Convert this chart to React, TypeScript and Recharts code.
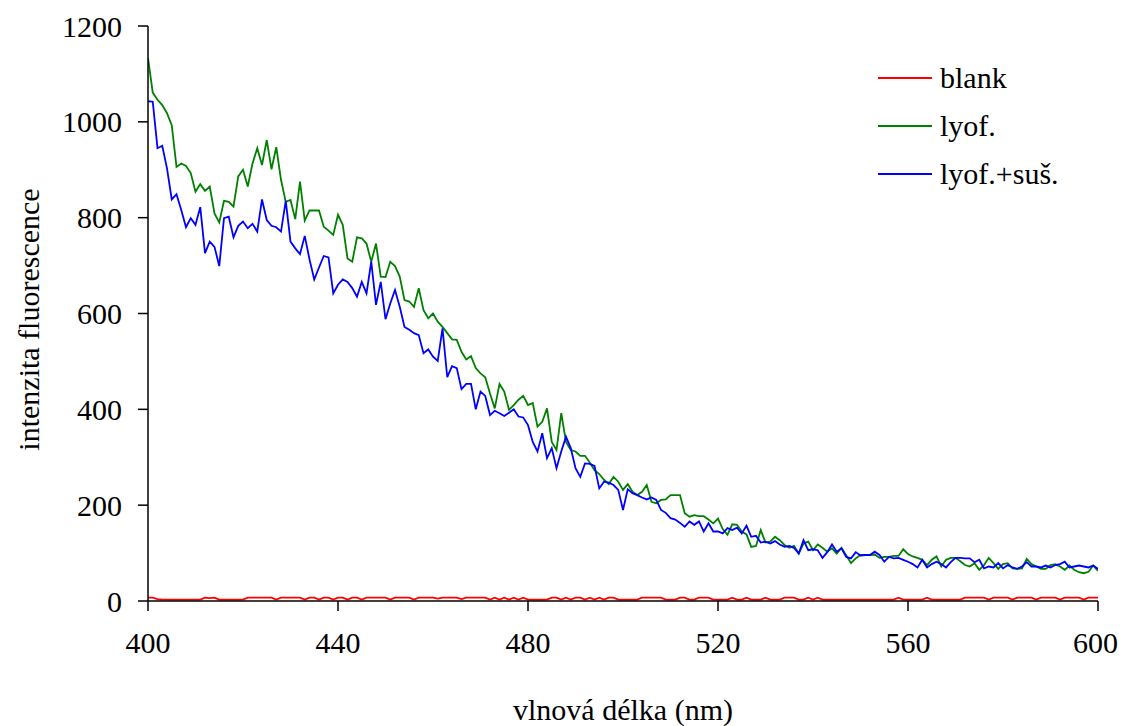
import React from 'react';
import { LineChart, Line, XAxis, YAxis, Label, Legend } from 'recharts';

const START_NM = 400;
const xTicks = [400, 440, 480, 520, 560, 600];
const yTicks = [0, 200, 400, 600, 800, 1000, 1200];

const blank = [
  7, 7, 4, 3, 3, 3, 3, 3, 3, 3,
  3, 3, 7, 6, 7, 3, 3, 3, 3, 3,
  3, 7, 7, 7, 7, 7, 7, 3, 7, 7,
  7, 7, 7, 3, 7, 7, 3, 7, 7, 3,
  7, 7, 3, 7, 7, 3, 7, 7, 7, 7,
  7, 3, 7, 7, 7, 7, 3, 7, 7, 7,
  7, 5, 7, 7, 7, 7, 4, 7, 7, 7,
  7, 7, 3, 7, 3, 7, 3, 7, 3, 7,
  3, 3, 3, 3, 3, 7, 7, 3, 7, 3,
  7, 7, 3, 7, 3, 7, 3, 7, 7, 3,
  3, 3, 3, 3, 7, 7, 7, 7, 7, 3,
  3, 3, 7, 7, 3, 3, 7, 7, 7, 3,
  3, 3, 3, 7, 3, 3, 7, 3, 3, 3,
  7, 3, 3, 3, 7, 7, 7, 3, 3, 7,
  3, 7, 3, 3, 3, 3, 3, 3, 3, 3,
  3, 3, 3, 3, 3, 3, 3, 3, 7, 3,
  3, 3, 3, 3, 7, 3, 3, 3, 3, 3,
  3, 3, 7, 7, 7, 7, 7, 3, 7, 7,
  7, 7, 3, 7, 7, 7, 7, 3, 7, 7,
  7, 7, 3, 7, 7, 7, 7, 3, 7, 7,
  7,
];

const lyof = [
  1133, 1061, 1046, 1035, 1018, 993, 906, 913, 908, 893,
  854, 870, 856, 865, 809, 790, 835, 833, 823, 886,
  900, 865, 913, 945, 910, 962, 901, 947, 879, 833,
  837, 797, 875, 794, 815, 815, 815, 781, 773, 764,
  806, 785, 715, 708, 759, 757, 746, 708, 746, 677,
  676, 708, 699, 677, 628, 625, 614, 653, 607, 590,
  600, 583, 572, 559, 546, 545, 520, 504, 511, 486,
  475, 467, 433, 402, 453, 437, 399, 409, 420, 428,
  409, 413, 364, 374, 402, 332, 315, 392, 332, 315,
  312, 303, 303, 289, 273, 265, 253, 244, 259, 249,
  232, 244, 228, 221, 228, 242, 207, 204, 211, 212,
  221, 221, 221, 183, 176, 179, 177, 177, 170, 162,
  172, 150, 138, 160, 159, 145, 139, 113, 115, 148,
  122, 124, 134, 127, 117, 111, 115, 99, 120, 124,
  106, 118, 111, 103, 110, 99, 111, 95, 79, 89,
  96, 96, 96, 97, 90, 92, 92, 94, 94, 108,
  98, 93, 90, 86, 75, 86, 93, 72, 86, 90,
  90, 83, 75, 72, 79, 65, 75, 90, 79, 67,
  77, 79, 68, 67, 68, 88, 77, 72, 67, 67,
  75, 77, 72, 65, 74, 65, 60, 58, 61, 74,
  63,
];

const lyofSus = [
  1043, 1042, 945, 950, 903, 838, 849, 816, 780, 799,
  785, 822, 726, 750, 739, 699, 799, 802, 759, 783,
  792, 778, 787, 771, 838, 795, 783, 780, 771, 835,
  750, 736, 724, 762, 713, 671, 696, 720, 717, 642,
  660, 671, 666, 653, 635, 666, 642, 708, 618, 666,
  588, 621, 649, 614, 572, 566, 559, 555, 517, 525,
  510, 501, 569, 467, 490, 486, 442, 453, 453, 400,
  437, 428, 388, 397, 392, 386, 393, 400, 385, 383,
  367, 332, 312, 350, 298, 319, 277, 312, 343, 319,
  277, 259, 287, 286, 282, 235, 249, 247, 242, 232,
  190, 233, 225, 221, 216, 212, 216, 211, 190, 184,
  173, 170, 163, 155, 166, 159, 166, 145, 162, 145,
  145, 141, 152, 148, 153, 141, 157, 134, 136, 122,
  124, 120, 125, 118, 113, 115, 111, 99, 127, 106,
  108, 106, 90, 102, 118, 103, 110, 92, 89, 102,
  95, 96, 96, 103, 96, 82, 92, 89, 90, 86,
  82, 77, 70, 86, 70, 77, 82, 77, 70, 81,
  90, 90, 89, 89, 81, 86, 68, 72, 70, 79,
  68, 75, 70, 67, 72, 81, 72, 72, 70, 74,
  70, 75, 77, 82, 70, 72, 74, 72, 70, 74,
  67,
];

const data = blank.map((b, i) => ({
  nm: START_NM + i,
  blank: b,
  lyof: lyof[i],
  lyofSus: lyofSus[i],
}));

const FONT = "'Liberation Serif', 'Times New Roman', serif";
const FS = 30;

const series = [
  { key: 'blank', name: 'blank', color: '#FF0000' },
  { key: 'lyof', name: 'lyof.', color: '#008000' },
  { key: 'lyofSus', name: 'lyof.+suš.', color: '#0000FF' },
];

const LegendContent = () => (
  <div style={{ fontFamily: FONT, fontSize: FS, color: '#000' }}>
    {series.map((s) => (
      <div key={s.key} style={{ display: 'flex', alignItems: 'center', height: 48 }}>
        <svg width={54} height={4} style={{ marginRight: 8 }}>
          <line x1={0} y1={2} x2={54} y2={2} stroke={s.color} strokeWidth={1.8} />
        </svg>
        <span style={{ whiteSpace: 'nowrap' }}>{s.name}</span>
      </div>
    ))}
  </div>
);

const YLabel = (props: any) => {
  const vb = props.viewBox;
  const x = (vb && typeof vb.x === 'number' ? vb.x : 0) + 20;
  const y = vb && typeof vb.y === 'number' ? vb.y + vb.height / 2 + 6 : 312;
  return (
    <text
      x={x}
      y={y}
      transform={`rotate(-90 ${x} ${y})`}
      textAnchor="middle"
      dominantBaseline="central"
      fontFamily={FONT}
      fontSize={FS}
      fill="#000"
    >
      intenzita fluorescence
    </text>
  );
};

export default function App() {
  const tickStyle = { fontFamily: FONT, fontSize: FS, fill: '#000' };
  return (
    <LineChart
      width={1110}
      height={718}
      data={data}
      margin={{ top: 18, right: 20, left: 0, bottom: 0 }}
      style={{ fontFamily: FONT }}
    >
      <XAxis
        dataKey="nm"
        type="number"
        domain={[400, 600]}
        ticks={xTicks}
        allowDataOverflow
        height={125}
        tick={tickStyle}
        tickSize={10}
        tickMargin={21}
        axisLine={{ stroke: '#000', strokeWidth: 1.5 }}
        tickLine={{ stroke: '#000', strokeWidth: 1.5 }}
      >
        <Label
          value="vlnová délka (nm)"
          position="insideBottom"
          offset={6}
          fontFamily={FONT}
          fontSize={FS}
          fill="#000"
        />
      </XAxis>
      <YAxis
        type="number"
        domain={[0, 1200]}
        ticks={yTicks}
        width={140}
        tick={tickStyle}
        tickSize={10}
        tickMargin={16}
        axisLine={{ stroke: '#000', strokeWidth: 1.5 }}
        tickLine={{ stroke: '#000', strokeWidth: 1.5 }}
      >
        <Label content={YLabel} />
      </YAxis>
      <Legend
        layout="vertical"
        verticalAlign="middle"
        align="center"
        content={LegendContent}
        wrapperStyle={{ position: 'absolute', top: 46, left: 870, width: 200 }}
      />
      {series.map((s) => (
        <Line
          key={s.key}
          type="linear"
          dataKey={s.key}
          name={s.name}
          stroke={s.color}
          strokeWidth={1.8}
          dot={false}
          activeDot={false}
          isAnimationActive={false}
        />
      ))}
    </LineChart>
  );
}
